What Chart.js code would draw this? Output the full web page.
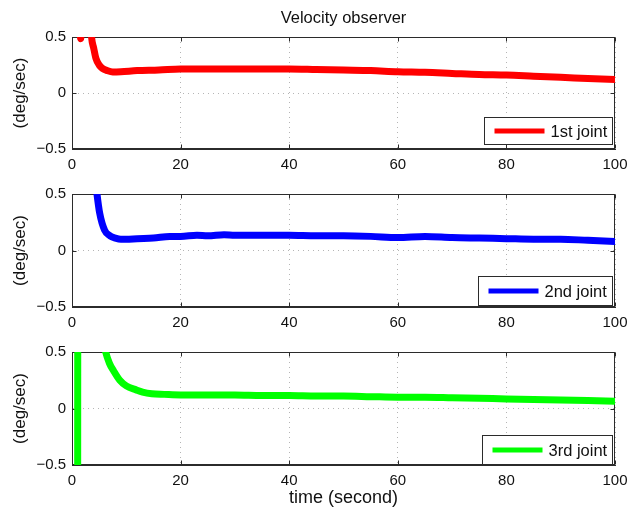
<!DOCTYPE html>
<html lang="en">
<head>
<meta charset="UTF-8">
<title>Velocity observer</title>
<script src="https://cdn.jsdelivr.net/npm/chart.js"></script>
<style>
  body { margin: 0; background: #fff; }
  #wrap { position: relative; width: 630px; height: 507px; }
  #wrap canvas { position: absolute; left: 0; top: 0; }
</style>
</head>
<body>
<div id="wrap">
  <canvas id="c1" width="630" height="507"></canvas>
  <canvas id="c2" width="630" height="507"></canvas>
  <canvas id="c3" width="630" height="507"></canvas>
</div>
<script>
// --- data ---
const titleText = 'Velocity observer';
const yLabel = '(deg/sec)';
const xLabel = 'time (second)';
const xTicks = [0, 20, 40, 60, 80, 100];
const yTicks = [-0.5, 0, 0.5];

const joint1Label = '1st joint';
const joint1Time = [0, 1.2, 1.6, 2.0, 3.0, 3.6, 4.0, 4.4, 5.0, 5.6, 6.5, 7.5, 9, 12, 16, 20, 25, 30, 35, 40, 45, 50, 55, 60, 65, 70, 75, 80, 85, 90, 95, 100];
const joint1Vel  = [1.8, 1.2, 0.485, 1.2, 1.0, 0.5, 0.4, 0.31, 0.25, 0.22, 0.2, 0.188, 0.19, 0.2, 0.205, 0.215, 0.215, 0.215, 0.215, 0.215, 0.21, 0.205, 0.2, 0.19, 0.185, 0.175, 0.165, 0.16, 0.15, 0.14, 0.13, 0.12];

const joint2Label = '2nd joint';
const joint2Time = [0, 3, 4.6, 5.1, 6.0, 7.0, 8.0, 9.0, 10, 12, 15, 18, 20, 23, 25, 28, 30, 35, 40, 45, 50, 55, 60, 65, 70, 75, 80, 85, 90, 95, 100];
const joint2Vel  = [3, 1.2, 0.5, 0.33, 0.18, 0.13, 0.11, 0.1, 0.1, 0.105, 0.11, 0.125, 0.125, 0.135, 0.13, 0.14, 0.135, 0.135, 0.135, 0.13, 0.13, 0.125, 0.115, 0.125, 0.115, 0.11, 0.105, 0.1, 0.1, 0.09, 0.08];

const joint3Label = '3rd joint';
const joint3Time = [0, 1.0, 1.1, 3.0, 5.0, 6.2, 6.9, 7.7, 8.8, 10, 11.8, 13, 14.7, 17, 20, 25, 30, 35, 40, 45, 50, 55, 60, 65, 70, 75, 80, 85, 90, 95, 100];
const joint3Vel  = [-2, -3, 3, 1.5, 0.8, 0.5, 0.4, 0.33, 0.25, 0.2, 0.165, 0.145, 0.13, 0.125, 0.12, 0.12, 0.12, 0.115, 0.115, 0.11, 0.11, 0.105, 0.1, 0.1, 0.095, 0.09, 0.085, 0.08, 0.075, 0.07, 0.065];

const FONT = "'Liberation Sans', Arial, Helvetica, sans-serif";
const AXIS = '#2b2b2b';
const TEXT = '#111';

// MATLAB-like box with inward ticks on all four sides
const framePlugin = {
  id: 'frame',
  beforeDatasetsDraw(chart) {
    const { ctx, chartArea: a, scales } = chart;
    const L = Math.round(a.left) + 0.5, R = Math.round(a.right) - 0.5;
    const T = Math.round(a.top) + 0.5, B = Math.round(a.bottom) - 0.5;
    ctx.save();
    ctx.strokeStyle = AXIS;
    ctx.lineWidth = 1;
    ctx.strokeRect(L, T, R - L, B - T);
    ctx.beginPath();
    scales.x.ticks.forEach(t => {
      const px = Math.round(scales.x.getPixelForValue(t.value)) + 0.5;
      ctx.moveTo(px, B); ctx.lineTo(px, B - 4);
      ctx.moveTo(px, T); ctx.lineTo(px, T + 4);
    });
    scales.y.ticks.forEach(t => {
      const py = Math.round(scales.y.getPixelForValue(t.value)) + 0.5;
      ctx.moveTo(L, py); ctx.lineTo(L + 4, py);
      ctx.moveTo(R, py); ctx.lineTo(R - 4, py);
    });
    ctx.stroke();
    ctx.restore();
  }
};

// boxed legend in the lower right corner of the plot area
const boxLegend = {
  id: 'boxLegend',
  afterDraw(chart, args, opts) {
    const { ctx, chartArea: a } = chart;
    const ds = chart.data.datasets[0];
    ctx.save();
    ctx.font = '16.5px ' + FONT;
    const tw = ctx.measureText(ds.label).width;
    const w = 10 + 50 + 6 + tw + 6;
    const h = opts.height;
    const right = Math.round(a.right) - 2.5;
    const bottom = Math.round(a.bottom) - 0.5 - opts.gap;
    const left = Math.round(right - w) + 0.5;
    const top = bottom - h;
    ctx.fillStyle = '#fff';
    ctx.fillRect(left, top, right - left, h);
    ctx.strokeStyle = AXIS;
    ctx.lineWidth = 1;
    ctx.strokeRect(left, top, right - left, h);
    const cy = top + h / 2;
    ctx.strokeStyle = ds.borderColor;
    ctx.lineWidth = 5;
    ctx.beginPath();
    ctx.moveTo(left + 10, cy); ctx.lineTo(left + 60, cy);
    ctx.stroke();
    ctx.fillStyle = TEXT;
    ctx.textBaseline = 'middle';
    ctx.fillText(ds.label, left + 66, cy + 1);
    ctx.restore();
  }
};

function makeChart(id, label, times, vels, color, cfg) {
  const points = times.map((t, i) => ({ x: t, y: vels[i] }));
  return new Chart(document.getElementById(id), {
    type: 'line',
    data: {
      datasets: [{
        label: label,
        data: points,
        borderColor: color,
        borderWidth: 7,
        borderJoinStyle: 'round',
        borderCapStyle: 'round',
        pointRadius: 0,
        cubicInterpolationMode: 'monotone',
        clip: 0
      }]
    },
    options: {
      responsive: false,
      animation: false,
      events: [],
      layout: { padding: { top: cfg.padTop, bottom: cfg.padBottom, left: 0, right: 15 } },
      plugins: {
        legend: { display: false },
        tooltip: { enabled: false },
        title: {
          display: cfg.showTitle,
          fullSize: false,
          text: titleText,
          color: TEXT,
          font: { family: FONT, size: 16.5, weight: 'normal' },
          padding: { top: 8.1, bottom: 9.1 }
        },
        boxLegend: { height: cfg.legendHeight, gap: cfg.legendGap }
      },
      scales: {
        x: {
          type: 'linear',
          min: 0, max: 100,
          afterBuildTicks: s => { s.ticks = xTicks.map(v => ({ value: v })); },
          afterFit: s => { s.height = cfg.xHeight; s.paddingLeft = 0; s.paddingRight = 0; },
          ticks: {
            autoSkip: false, maxRotation: 0, padding: 7,
            color: TEXT, font: { family: FONT, size: 15 }
          },
          grid: { color: '#b5b5b5', drawTicks: false },
          border: { color: AXIS, dash: [1, 4] },
          title: {
            display: cfg.showXLabel, text: xLabel, color: TEXT,
            font: { family: FONT, size: 18 }, padding: { top: 0, bottom: -2 }
          }
        },
        y: {
          min: -0.5, max: 0.5,
          afterBuildTicks: s => { s.ticks = yTicks.map(v => ({ value: v })); },
          afterFit: s => { s.width = 72; s.paddingTop = 0; s.paddingBottom = 0; },
          ticks: {
            padding: 6, color: TEXT, font: { family: FONT, size: 15 },
            callback: v => v < 0 ? '\u2212' + Math.abs(v) : String(v)
          },
          grid: { color: '#b5b5b5', drawTicks: false },
          border: { color: AXIS, dash: [1, 4] },
          title: {
            display: true, text: yLabel, color: TEXT,
            font: { family: FONT, size: 17 }, padding: { top: 10, bottom: 0 }
          }
        }
      }
    },
    plugins: [framePlugin, boxLegend]
  });
}

makeChart('c1', joint1Label, joint1Time, joint1Vel, '#ff0000',
  { padTop: 0, padBottom: 338, xHeight: 20, showTitle: true, showXLabel: false, legendHeight: 27, legendGap: 4 });
makeChart('c2', joint2Label, joint2Time, joint2Vel, '#0000ff',
  { padTop: 194, padBottom: 180, xHeight: 20, showTitle: false, showXLabel: false, legendHeight: 29, legendGap: 1 });
makeChart('c3', joint3Label, joint3Time, joint3Vel, '#00ff00',
  { padTop: 352, padBottom: 0, xHeight: 42, showTitle: false, showXLabel: true, legendHeight: 29, legendGap: 0 });
</script>
</body>
</html>
